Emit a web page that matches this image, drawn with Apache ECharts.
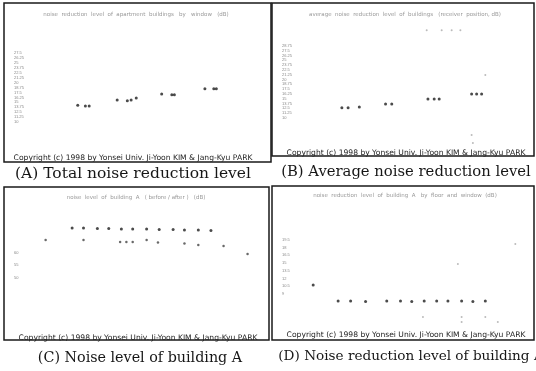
<!DOCTYPE html>
<html>
<head>
<meta charset="utf-8">
<script src="https://cdn.jsdelivr.net/npm/echarts@6/dist/echarts.min.js"></script>
<style>
html, body { margin: 0; padding: 0; background: #fff; }
#chart { width: 536px; height: 371px; }
</style>
</head>
<body>
<div id="chart"></div>
<script>
// (A) total noise reduction level
var totalX = [5.8, 6.4, 6.7, 8.9, 9.7, 10.0, 10.4, 12.4, 13.2, 13.4, 15.8, 16.5, 16.7];
var totalY = [14.3, 14.1, 14.1, 15.6, 15.4, 15.6, 16.1, 17.1, 16.9, 16.9, 18.4, 18.4, 18.4];

// (B) average noise reduction level
var avgX = [5.6, 6.1, 7.0, 9.1, 9.6, 12.5, 13.0, 13.4, 16.0, 16.4, 16.8];
var avgY = [12.6, 12.6, 12.8, 13.6, 13.6, 14.9, 14.9, 14.9, 16.2, 16.2, 16.2];
var avgFaintX = [16.0, 16.1, 12.4, 13.6, 14.4, 15.1, 17.1];
var avgFaintY = [5.5, 3.4, 32.9, 32.9, 32.9, 32.9, 21.2];

// (C) noise level of building A
var levelX = [5.4, 6.3, 7.4, 8.3, 9.3, 10.2, 11.3, 12.3, 13.4, 14.3, 15.4, 16.4];
var levelBefore = [69.8, 69.8, 69.6, 69.6, 69.4, 69.4, 69.4, 69.2, 69.2, 69.0, 69.0, 68.8];
var levelAfterX = [3.3, 6.3, 9.2, 9.7, 10.2, 11.3, 12.2, 14.3, 15.4, 17.4, 19.3];
var levelAfter = [65.0, 65.0, 64.2, 64.2, 64.2, 65.0, 64.0, 63.6, 63.0, 62.6, 59.4];

// (D) noise reduction level of building A
var redX = [3.3, 5.3, 6.3, 7.5, 9.2, 10.3, 11.2, 12.2, 13.2, 14.1, 15.2, 16.1, 17.1];
var redY = [10.7, 7.6, 7.6, 7.5, 7.6, 7.6, 7.5, 7.6, 7.6, 7.6, 7.6, 7.5, 7.6];
var redFaintX = [14.9, 19.5, 12.1, 15.2, 17.1, 15.2, 18.1];
var redFaintY = [14.8, 18.7, 4.5, 4.5, 4.5, 3.5, 3.5];

var captions = [
  '(A) Total noise reduction level',
  '(B) Average noise reduction level',
  '(C) Noise level of building A',
  '(D) Noise reduction level of building A'
];
var panelTitles = [
  'noise  reduction  level  of  apartment  buildings   by   window   (dB)',
  'average  noise  reduction  level  of  buildings   (receiver  position, dB)',
  'noise  level  of  building  A   ( before / after )   (dB)',
  'noise  reduction  level  of  building  A   by  floor  and  window  (dB)'
];
var copyright = 'Copyright (c) 1998 by Yonsei Univ. Ji-Yoon KIM & Jang-Kyu PARK';

function pairs(xs, ys) {
  var res = [];
  for (var i = 0; i < xs.length; i++) res.push([xs[i], ys[i]]);
  return res;
}

var chart = echarts.init(document.getElementById('chart'), null, { renderer: 'canvas' });

var grids = [
  { left: 4, top: 3, width: 267, height: 159 },
  { left: 272, top: 3, width: 262, height: 153 },
  { left: 4, top: 187, width: 265, height: 153 },
  { left: 272, top: 186, width: 262, height: 154 }
];
grids.forEach(function (g) {
  g.show = true;
  g.borderColor = '#1a1a1a';
  g.borderWidth = 1.5;
  g.backgroundColor = '#fff';
});

function xAx(i) {
  return {
    type: 'value', gridIndex: i, min: 0, max: 21,
    axisLine: { show: false }, axisTick: { show: false },
    axisLabel: { show: false }, splitLine: { show: false }
  };
}
function yAx(i, min, max, interval, lo, hi) {
  return {
    type: 'value', gridIndex: i, min: min, max: max, interval: interval,
    axisLine: { show: false }, axisTick: { show: false }, splitLine: { show: false },
    axisLabel: {
      inside: true, margin: 10, fontSize: 4, color: '#888',
      formatter: function (v) { return (v >= lo && v <= hi) ? String(v) : ''; }
    }
  };
}

var dot = { color: '#1e1e1e' };
var faint = { color: '#aaa' };

var graphics = [];
var capPos = [[133, 174], [406, 172], [140, 358], [411, 356]];
var capSize = [15.5, 14.8, 14.3, 13.6];
var copyPos = [[133, 158], [406, 153], [138, 338], [406, 335]];
var titlePos = [[136, 15], [405, 15], [136, 198], [405, 196]];
for (var i = 0; i < 4; i++) {
  graphics.push({
    type: 'text', x: capPos[i][0], y: capPos[i][1], z: 10,
    style: { text: captions[i], fill: '#161616', font: capSize[i] + 'px "DejaVu Serif"', align: 'center', verticalAlign: 'middle' }
  });
  graphics.push({
    type: 'text', x: copyPos[i][0], y: copyPos[i][1], z: 10,
    style: { text: copyright, fill: '#222', font: '7.6px "DejaVu Sans"', align: 'center', verticalAlign: 'middle' }
  });
  graphics.push({
    type: 'text', x: titlePos[i][0], y: titlePos[i][1], z: 10,
    style: { text: panelTitles[i], fill: '#999', font: '5.5px "DejaVu Sans"', align: 'center', verticalAlign: 'middle' }
  });
}

chart.setOption({
  animation: false,
  backgroundColor: '#fff',
  grid: grids,
  xAxis: [xAx(0), xAx(1), xAx(2), xAx(3)],
  yAxis: [
    yAx(0, 0, 40, 1.25, 10, 27.5),
    yAx(1, 0, 40, 1.25, 10, 28.75),
    yAx(2, 25, 86.2, 5, 50, 60),
    yAx(3, 0, 30, 1.5, 9, 19.5)
  ],
  graphic: graphics,
  series: [
    { type: 'scatter', xAxisIndex: 0, yAxisIndex: 0, symbolSize: 3, itemStyle: dot, data: pairs(totalX, totalY) },
    { type: 'scatter', xAxisIndex: 1, yAxisIndex: 1, symbolSize: 3, itemStyle: dot, data: pairs(avgX, avgY) },
    { type: 'scatter', xAxisIndex: 1, yAxisIndex: 1, symbolSize: 2, itemStyle: faint, data: pairs(avgFaintX, avgFaintY) },
    { type: 'scatter', xAxisIndex: 2, yAxisIndex: 2, symbolSize: 3, itemStyle: dot, data: pairs(levelX, levelBefore) },
    { type: 'scatter', xAxisIndex: 2, yAxisIndex: 2, symbolSize: 2.5, itemStyle: { color: '#444' }, data: pairs(levelAfterX, levelAfter) },
    { type: 'scatter', xAxisIndex: 3, yAxisIndex: 3, symbolSize: 3, itemStyle: dot, data: pairs(redX, redY) },
    { type: 'scatter', xAxisIndex: 3, yAxisIndex: 3, symbolSize: 2, itemStyle: faint, data: pairs(redFaintX, redFaintY) }
  ]
});
</script>
</body>
</html>
